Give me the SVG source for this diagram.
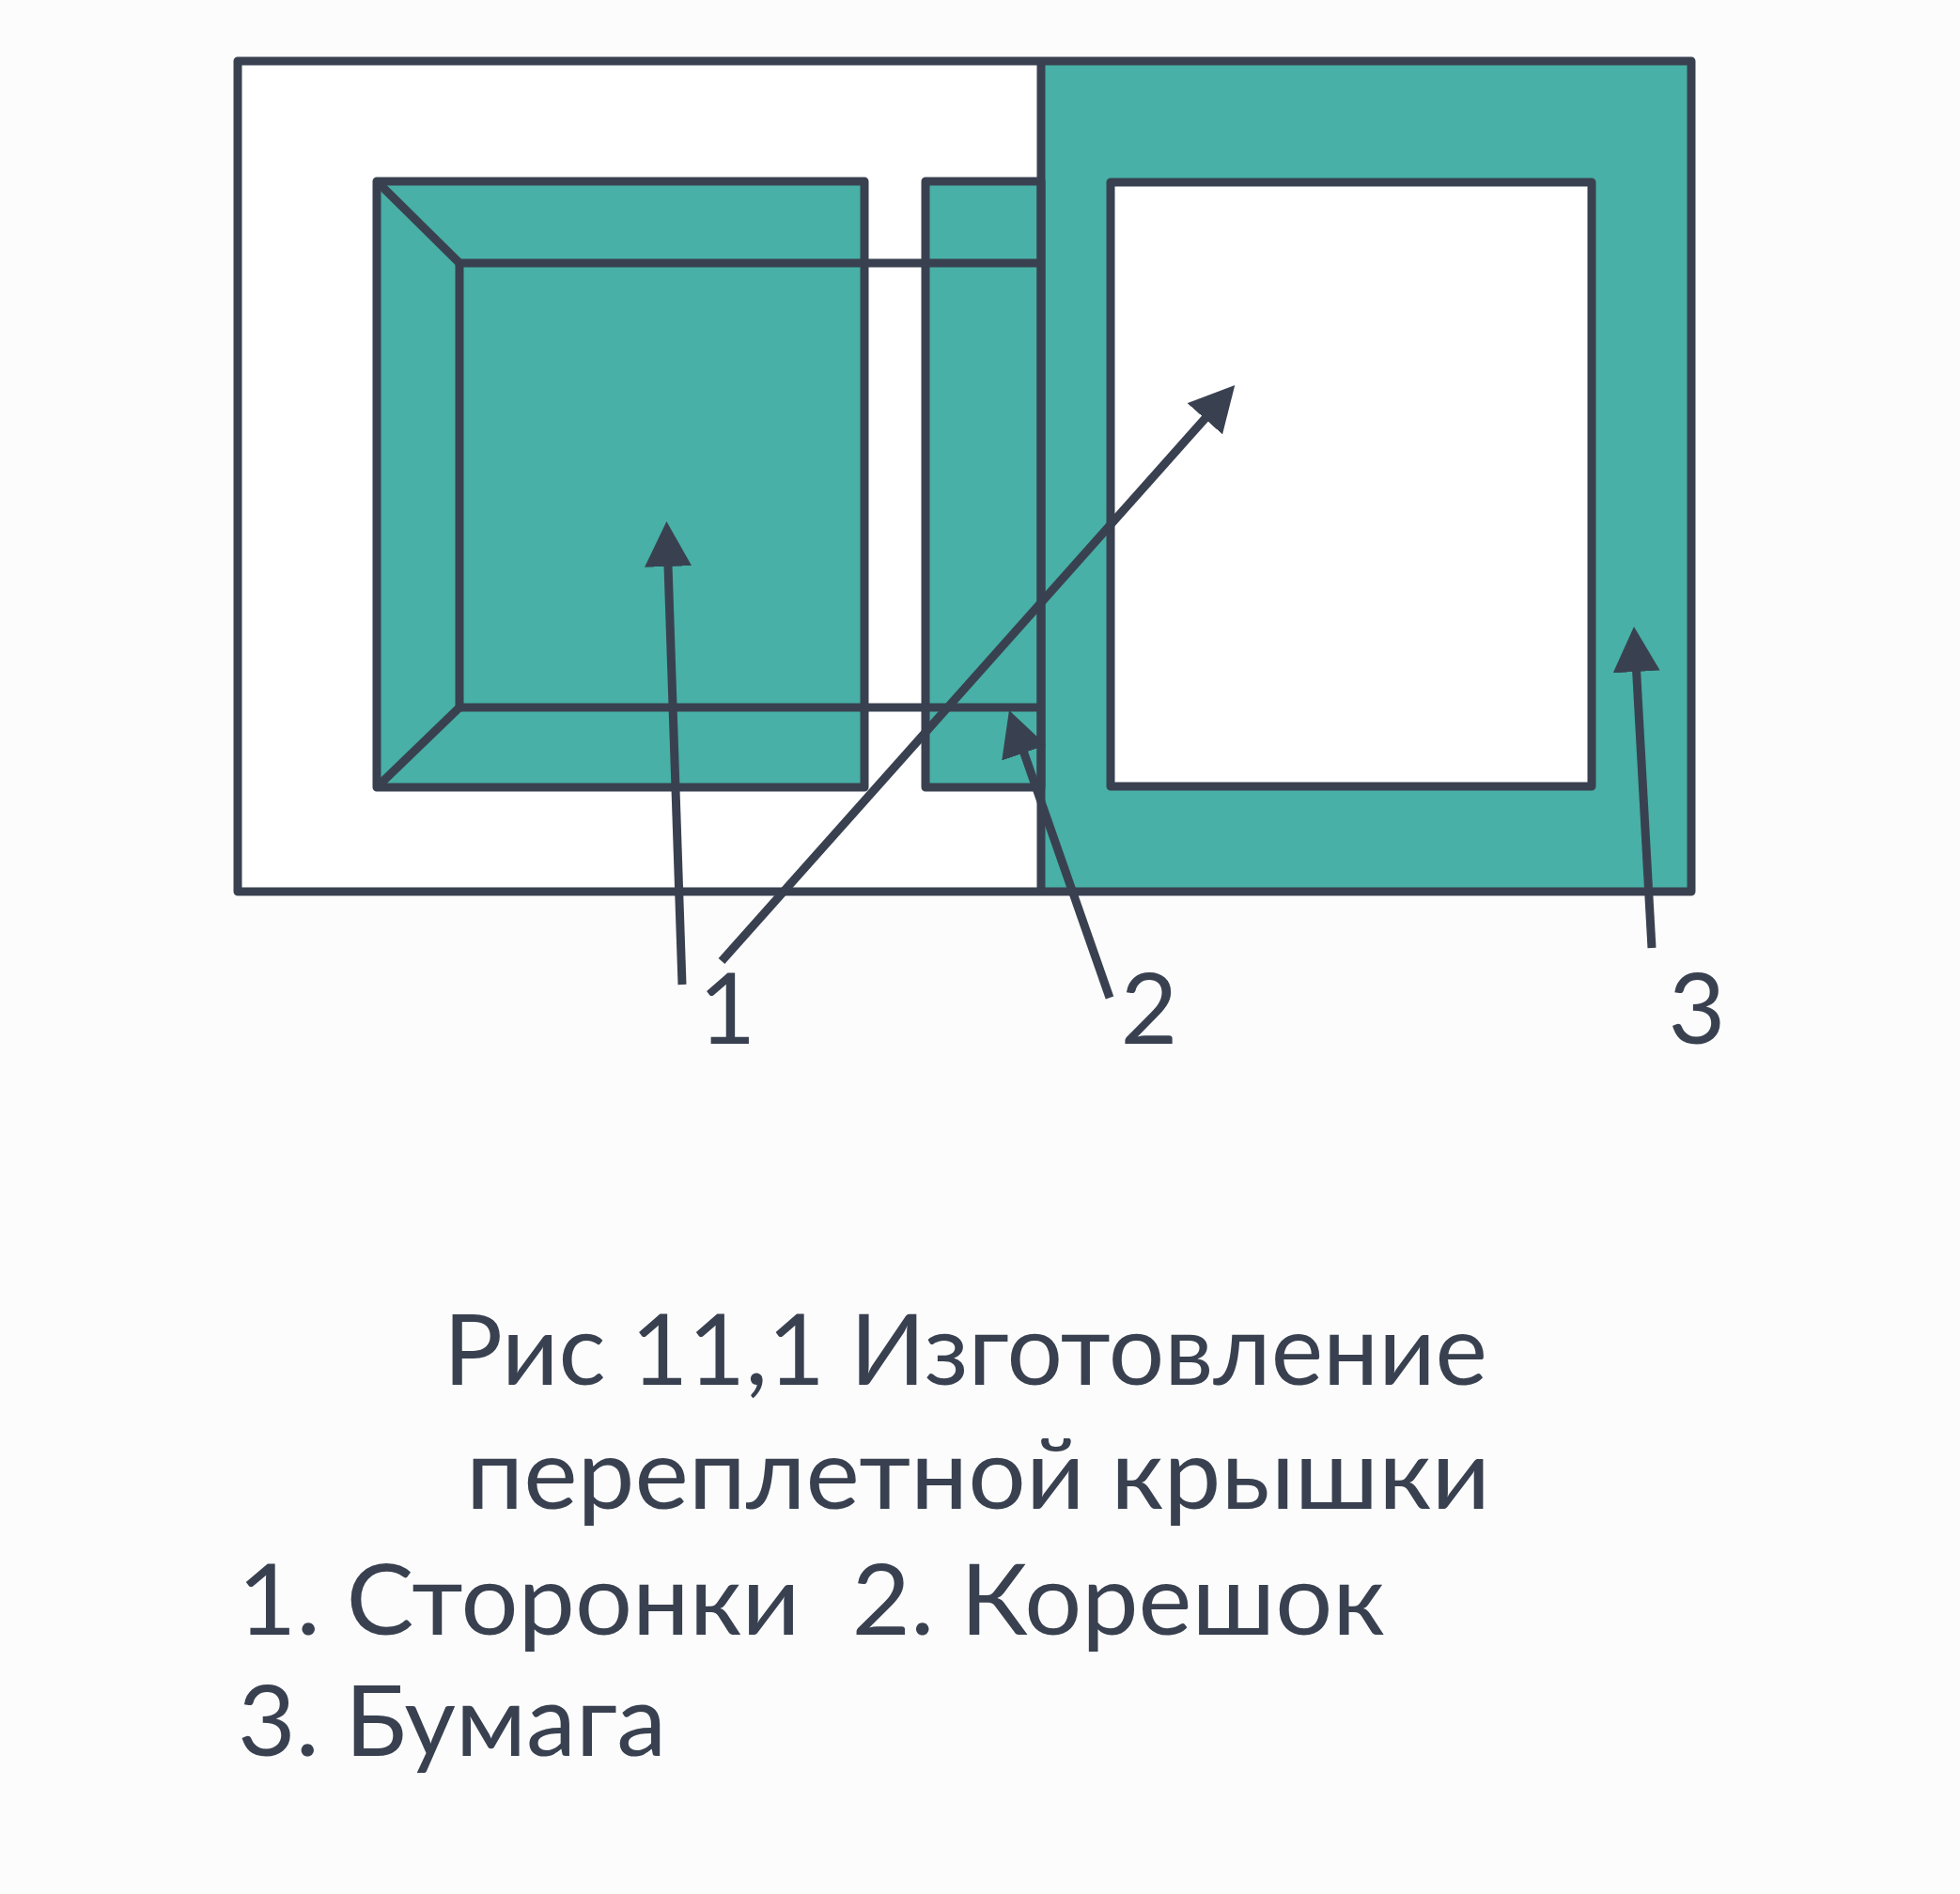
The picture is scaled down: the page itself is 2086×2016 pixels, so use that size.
<svg xmlns="http://www.w3.org/2000/svg" width="2086" height="2016" viewBox="0 0 2086 2016">
<style>
.ln{stroke:#394150;stroke-width:9;fill:none;stroke-linejoin:round;stroke-linecap:butt}
.teal{fill:#48B0A6}
.wh{fill:#FFFFFF}
.arr{stroke:#394150;stroke-width:9;fill:none;marker-end:url(#ah)}
.lbl{font-family:Lato,"Noto Sans",sans-serif;font-size:105px;fill:#394150;text-anchor:middle}
.cap{font-family:Lato,"Noto Sans","DejaVu Sans",sans-serif;font-size:105px;fill:#394150}
</style>
<defs>
<marker id="ah" markerUnits="userSpaceOnUse" markerWidth="48" markerHeight="50" viewBox="0 0 48 50" refX="1" refY="25" orient="auto">
<path d="M0,0 L48,25 L0,50 z" fill="#394150"/>
</marker>
</defs>
<rect x="0" y="0" width="2086" height="2016" fill="#FCFCFC"/>
<g id="cover">
<rect x="253" y="65" width="1547" height="884" class="wh"/>
<rect x="1108" y="65" width="692" height="884" class="teal"/>
</g>
<g id="paper-window">
<rect x="1182" y="194" width="512" height="643" class="ln" style="fill:#FFFFFF"/>
</g>
<g id="side-board">
<rect x="401" y="193" width="519" height="645" class="ln" style="fill:#48B0A6"/>
</g>
<g id="spine">
<rect x="985" y="193" width="123" height="645" class="ln" style="fill:#48B0A6"/>
</g>
<g id="inner-lines">
<path class="ln" d="M1108,280 L489,280 L489,753 L1108,753"/>
<path class="ln" d="M401,193 L489,280"/>
<path class="ln" d="M401,838 L489,753"/>
</g>
<g id="cover-outline">
<line class="ln" x1="1108" y1="65" x2="1108" y2="949"/>
<rect x="253" y="65" width="1547" height="884" class="ln"/>
</g>
<g id="connectors">
<line class="arr" x1="726" y1="1048" x2="711" y2="602"/>
<line class="arr" x1="768" y1="1023" x2="1283" y2="445"/>
<line class="arr" x1="1181" y1="1062" x2="1089.5" y2="800.4"/>
<line class="arr" x1="1758" y1="1009" x2="1741.6" y2="714"/>
</g>
<g id="labels">
<text class="lbl" x="774" y="1111">1</text>
<text class="lbl" x="1223" y="1111">2</text>
<text class="lbl" x="1806" y="1111">3</text>
</g>
<g id="caption">
<text class="cap" x="472" y="1474" textLength="1111" lengthAdjust="spacingAndGlyphs">Рис 11,1 Изготовление</text>
<text class="cap" x="496" y="1606" textLength="1090" lengthAdjust="spacingAndGlyphs">переплетной крышки</text>
<text class="cap" x="253" y="1740" textLength="1221" lengthAdjust="spacingAndGlyphs" xml:space="preserve">1. Сторонки  2. Корешок</text>
<text class="cap" x="253" y="1869" textLength="456" lengthAdjust="spacingAndGlyphs">3. Бумага</text>
</g>
</svg>
